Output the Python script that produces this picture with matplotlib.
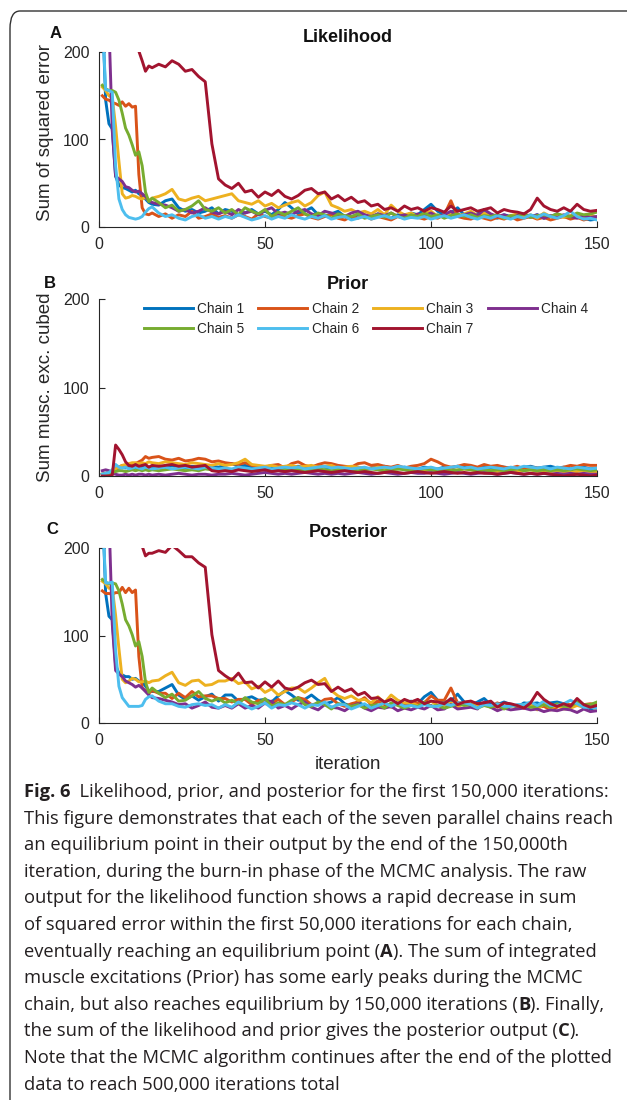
import numpy as np
import matplotlib
matplotlib.use("Agg")
import matplotlib.pyplot as plt
from matplotlib.patches import FancyBboxPatch

plt.rcParams['font.family'] = ['Liberation Sans', 'DejaVu Sans']

nan = float("nan")

# iteration axis (x 1000): every step early on, every second step later
iters = list(range(1, 17)) + list(range(18, 151, 2))

chain_names = ["Chain 1", "Chain 2", "Chain 3", "Chain 4",
               "Chain 5", "Chain 6", "Chain 7"]
chain_colors = ["#0072BD", "#D95319", "#EDB120", "#7E2F8E",
                "#77AC30", "#4DBEEE", "#A2142F"]

# likelihood (sum of squared error)
lik_c1 = [250, 145, 118, 112, 58, 48, 45, 44, 42, 40, 42, 38, 36, 32, 28, 26,
          25, 30, 32, 22, 18, 20, 16, 18, 22, 15,
          20, 18, 14, 16, 20, 15, 18, 14, 20, 28,
          22, 15, 18, 22, 14, 12, 15, 18, 12, 10,
          14, 12, 10, 15, 12, 10, 14, 12, 16, 14,
          20, 26, 18, 14, 16, 22, 14, 12, 15, 18,
          12, 10, 14, 12, 10, 13, 11, 14, 10, 12,
          15, 12, 10, 14, 10, 8, 9]
lik_c2 = [150, 146, 145, 142, 141, 139, 143, 138, 141, 137, 138, 60, 22, 15, 14, 16,
          12, 15, 10, 14, 12, 18, 10, 12, 15, 11,
          13, 10, 14, 12, 9, 15, 12, 10, 14, 12,
          10, 13, 15, 11, 9, 12, 14, 10, 8, 12,
          10, 14, 9, 12, 10, 8, 12, 10, 13, 11,
          9, 12, 10, 14, 30, 12, 10, 9, 12, 10,
          8, 11, 9, 12, 8, 10, 12, 9, 11, 8,
          10, 12, 9, 11, 8, 10, 9]
lik_c3 = [160, 156, 150, 148, 115, 75, 38, 33, 34, 36, 35, 33, 32, 34, 30, 33,
          35, 38, 43, 32, 30, 33, 35, 30, 32, 34,
          36, 38, 30, 28, 26, 30, 24, 27, 22, 25,
          28, 30, 24, 28, 36, 40, 25, 22, 18, 20,
          16, 18, 15, 20, 14, 25, 18, 14, 16, 12,
          15, 18, 12, 14, 16, 12, 15, 18, 13, 16,
          12, 14, 10, 13, 15, 12, 14, 10, 16, 12,
          14, 11, 13, 15, 12, 14, 11]
lik_c4 = [260, 250, 230, 110, 58, 55, 52, 46, 45, 42, 40, 41, 38, 35, 30, 28,
          26, 25, 22, 18, 20, 16, 18, 22, 17, 15,
          18, 14, 20, 16, 18, 14, 19, 22, 15, 17,
          14, 18, 20, 15, 13, 18, 16, 14, 12, 16,
          18, 14, 12, 15, 13, 16, 12, 14, 11, 15,
          13, 16, 12, 14, 18, 12, 14, 16, 13, 20,
          15, 12, 14, 11, 13, 15, 12, 14, 10, 13,
          11, 14, 12, 10, 13, 11, 12]
lik_c5 = [162, 158, 156, 156, 154, 145, 130, 113, 105, 94, 82, 86, 70, 40, 29, 33,
          28, 22, 25, 18, 20, 24, 30, 20, 18, 22,
          16, 20, 14, 22, 18, 15, 20, 12, 17, 14,
          18, 22, 15, 12, 16, 14, 10, 15, 13, 12,
          15, 10, 12, 14, 11, 16, 12, 10, 14, 12,
          16, 12, 14, 10, 13, 15, 12, 14, 11, 13,
          12, 14, 10, 13, 12, 15, 11, 13, 14, 12,
          15, 13, 12, 16, 14, 15, 17]
lik_c6 = [240, 157, 156, 154, 70, 32, 20, 14, 11, 10, 9, 10, 12, 17, 21, 23,
          16, 12, 14, 10, 8, 12, 14, 10, 12, 9,
          12, 10, 14, 11, 8, 10, 13, 9, 12, 10,
          14, 11, 9, 12, 10, 13, 9, 11, 12, 8,
          10, 12, 9, 11, 13, 10, 12, 9, 11, 10,
          12, 9, 11, 13, 10, 12, 14, 11, 9, 12,
          10, 13, 11, 9, 12, 10, 14, 11, 15, 12,
          10, 13, 18, 12, 9, 10, 8]
lik_c7 = [nan, nan, nan, nan, nan, nan, nan, nan, nan, nan, nan, 201, 190, 178, 184, 182,
          186, 183, 190, 186, 178, 180, 172, 166, 95, 55,
          48, 44, 50, 40, 42, 34, 40, 36, 42, 35,
          32, 36, 42, 44, 38, 40, 32, 36, 30, 34,
          28, 30, 24, 26, 20, 22, 18, 24, 20, 22,
          18, 22, 20, 17, 24, 18, 20, 22, 18, 20,
          22, 16, 20, 18, 17, 15, 20, 33, 24, 20,
          18, 22, 18, 26, 20, 18, 19]

# prior (sum of muscle excitations cubed)
pri_c1 = [2, 3, 4, 6, 8, 9, 10, 9, 11, 10, 9, 10, 11, 10, 9, 10,
          11, 10, 12, 10, 9, 11, 10, 12, 11, 10,
          12, 14, 11, 12, 10, 11, 9, 10, 11, 9,
          10, 11, 9, 10, 12, 10, 9, 11, 10, 9,
          10, 8, 9, 10, 11, 9, 8, 10, 9, 8,
          10, 9, 8, 10, 9, 11, 10, 8, 9, 10,
          9, 11, 10, 9, 8, 10, 11, 9, 10, 11,
          9, 10, 8, 9, 10, 8, 9]
pri_c2 = [1, 2, 3, 5, 8, 10, 12, 11, 13, 12, 14, 16, 18, 22, 20, 21,
          22, 19, 18, 20, 17, 18, 20, 19, 16, 17,
          15, 14, 13, 15, 12, 11, 10, 12, 13, 9,
          14, 16, 12, 10, 13, 15, 14, 12, 11, 10,
          14, 15, 12, 13, 11, 10, 12, 9, 11, 12,
          14, 19, 16, 12, 10, 11, 13, 12, 10, 13,
          11, 12, 10, 9, 11, 8, 10, 9, 8, 7,
          8, 10, 12, 11, 13, 12, 12]
pri_c3 = [2, 3, 4, 6, 8, 10, 12, 13, 14, 15, 15, 14, 15, 14, 16, 15,
          14, 16, 15, 14, 13, 15, 14, 13, 12, 14,
          12, 13, 15, 19, 13, 12, 11, 12, 10, 11,
          12, 10, 11, 12, 10, 11, 12, 9, 10, 11,
          10, 9, 8, 10, 9, 7, 8, 9, 7, 8,
          6, 7, 8, 6, 7, 6, 8, 7, 6, 5,
          6, 5, 7, 6, 5, 6, 7, 5, 6, 5,
          6, 5, 4, 5, 6, 5, 5]
pri_c4 = [6, 7, 6, 3, 2, 1, 1, 2, 1, 2, 1, 2, 2, 1, 2, 1,
          2, 1, 2, 3, 2, 1, 2, 2, 1, 2,
          2, 3, 2, 1, 2, 3, 4, 3, 2, 3,
          2, 3, 4, 3, 2, 3, 2, 3, 2, 3,
          4, 3, 2, 3, 4, 3, 2, 3, 4, 3,
          3, 4, 3, 2, 3, 4, 3, 2, 3, 4,
          3, 2, 3, 4, 3, 2, 3, 2, 3, 2,
          3, 2, 3, 2, 3, 2, 2]
pri_c5 = [2, 3, 3, 4, 5, 6, 6, 5, 6, 7, 6, 7, 6, 7, 6, 7,
          6, 7, 8, 7, 6, 7, 6, 8, 7, 6,
          7, 6, 8, 7, 6, 7, 8, 7, 6, 7,
          8, 7, 6, 7, 8, 7, 6, 7, 8, 7,
          6, 7, 8, 7, 6, 7, 8, 7, 6, 7,
          8, 7, 6, 7, 6, 7, 8, 7, 6, 7,
          6, 7, 6, 7, 8, 6, 7, 6, 7, 6,
          7, 6, 7, 8, 7, 6, 7]
pri_c6 = [2, 3, 4, 7, 13, 10, 9, 10, 8, 9, 10, 9, 8, 10, 9, 8,
          9, 10, 8, 9, 10, 9, 8, 10, 9, 8,
          9, 8, 10, 9, 8, 9, 10, 8, 9, 10,
          9, 10, 8, 9, 10, 11, 9, 10, 9, 8,
          9, 10, 8, 9, 10, 9, 11, 10, 9, 8,
          9, 10, 8, 9, 10, 11, 9, 10, 8, 9,
          10, 9, 8, 10, 9, 11, 10, 9, 10, 8,
          10, 9, 8, 10, 9, 8, 9]
pri_c7 = [0, 0, 0, 1, 35, 30, 24, 16, 12, 11, 13, 11, 12, 13, 10, 12,
          11, 12, 13, 11, 12, 10, 11, 12, 6, 5,
          6, 5, 7, 6, 5, 6, 7, 5, 6, 5,
          6, 5, 4, 5, 6, 5, 4, 5, 6, 5,
          4, 5, 4, 3, 4, 5, 4, 3, 4, 5,
          4, 3, 4, 5, 4, 3, 4, 3, 4, 3,
          3, 2, 3, 4, 3, 2, 3, 2, 3, 2,
          1, 0, 1, 2, 1, 0, 1]

likelihood = [lik_c1, lik_c2, lik_c3, lik_c4, lik_c5, lik_c6, lik_c7]
prior = [pri_c1, pri_c2, pri_c3, pri_c4, pri_c5, pri_c6, pri_c7]
# posterior = likelihood + prior (as stated in the caption)
posterior = [np.array(l, float) + np.array(p, float) for l, p in zip(likelihood, prior)]

W, H = 627, 1100
fig = plt.figure(figsize=(W / 100, H / 100), dpi=100)

# rounded frame of the figure box
frame = FancyBboxPatch((10 / W, 1 - 1130 / H), 660 / W, 1119 / H,
                       boxstyle="round,pad=0,rounding_size=0.016",
                       transform=fig.transFigure, fill=False,
                       edgecolor="#333333", linewidth=1.0, clip_on=False)
fig.patches.append(frame)


def px_axes(left, top, right, bottom):
    return fig.add_axes([left / W, 1 - bottom / H, (right - left) / W, (bottom - top) / H])


axc = "#262626"


def style(ax):
    for s in ("top", "right"):
        ax.spines[s].set_visible(False)
    for s in ("left", "bottom"):
        ax.spines[s].set_color(axc)
        ax.spines[s].set_linewidth(0.8)
    ax.set_xlim(0, 150)
    ax.set_ylim(0, 200)
    ax.set_xticks([0, 50, 100, 150])
    ax.set_yticks([0, 100, 200])
    ax.tick_params(direction="in", length=4, width=0.8, color=axc,
                   labelcolor=axc, labelsize=11.5, pad=7)
    ax.patch.set_alpha(0)


axA = px_axes(99, 52, 597, 227)
axB = px_axes(99, 299, 597, 476)
axC = px_axes(99, 548, 597, 723)

lines_B = []
for i in range(7):
    axA.plot(iters, likelihood[i], color=chain_colors[i], lw=2.1)
    ln, = axB.plot(iters, prior[i], color=chain_colors[i], lw=2.1)
    lines_B.append(ln)
    axC.plot(iters, posterior[i], color=chain_colors[i], lw=2.1)

for ax in (axA, axB, axC):
    style(ax)

axA.set_title("Likelihood", fontsize=13, fontweight="bold", color="#111111", pad=7)
axB.set_title("Prior", fontsize=13, fontweight="bold", color="#111111", pad=7)
axC.set_title("Posterior", fontsize=13, fontweight="bold", color="#111111", pad=8)

axA.set_ylabel("Sum of squared error", fontsize=13.5, color=axc)
axB.set_ylabel("Sum musc. exc. cubed", fontsize=13.5, color=axc)
axA.yaxis.set_label_coords(-0.09, 0.54)
axB.yaxis.set_label_coords(-0.09, 0.5)
axC.set_xlabel("iteration", fontsize=13.5, color=axc, labelpad=6)

for lab, (lx, ly) in zip("ABC", [(56, 34), (50, 283), (52, 530)]):
    fig.text(lx / W, 1 - ly / H, lab, fontsize=12, fontweight="bold",
             ha="center", va="center", color="#111111")

# legend filled row-wise like the original
order = [0, 4, 1, 5, 2, 6, 3]
axB.legend([lines_B[k] for k in order], [chain_names[k] for k in order],
           ncol=4, frameon=False, loc="upper left",
           bbox_to_anchor=(0.09, 0.985), borderaxespad=0, borderpad=0,
           handlelength=3.6, handletextpad=0.3, columnspacing=1.05,
           labelspacing=0.45, fontsize=9.8, labelcolor=axc)

# caption
cap_font = ["Open Sans", "DejaVu Sans"]
cap_size = 13.25
cap_col = "#231f20"
caption = [
    [("Fig. 6", True), ("  Likelihood, prior, and posterior for the first 150,000 iterations:", False)],
    [("This figure demonstrates that each of the seven parallel chains reach", False)],
    [("an equilibrium point in their output by the end of the 150,000th", False)],
    [("iteration, during the burn-in phase of the MCMC analysis. The raw", False)],
    [("output for the likelihood function shows a rapid decrease in sum", False)],
    [("of squared error within the first 50,000 iterations for each chain,", False)],
    [("eventually reaching an equilibrium point (", False), ("A", True), ("). The sum of integrated", False)],
    [("muscle excitations (Prior) has some early peaks during the MCMC", False)],
    [("chain, but also reaches equilibrium by 150,000 iterations (", False), ("B", True), ("). Finally,", False)],
    [("the sum of the likelihood and prior gives the posterior output (", False), ("C", True), (").", False)],
    [("Note that the MCMC algorithm continues after the end of the plotted", False)],
    [("data to reach 500,000 iterations total", False)],
]

renderer = fig.canvas.get_renderer()
y0, dy = 792, 26.6
for n, parts in enumerate(caption):
    x = 24
    y = y0 + n * dy
    for s, bold in parts:
        t = fig.text(x / W, 1 - y / H, s, fontsize=cap_size, family=cap_font,
                     fontweight="bold" if bold else "normal",
                     ha="left", va="center", color=cap_col)
        x += t.get_window_extent(renderer).width

fig.savefig("out.png", dpi=100)
